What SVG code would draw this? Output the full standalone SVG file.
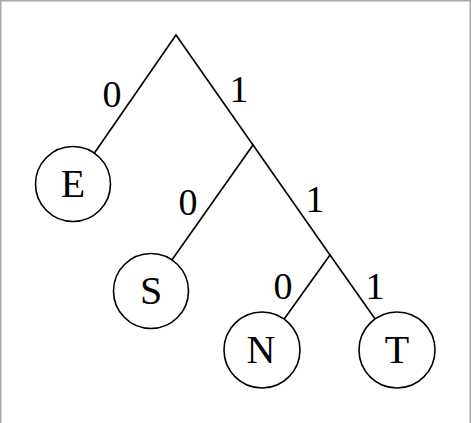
<svg xmlns="http://www.w3.org/2000/svg" width="471" height="423" viewBox="0 0 471 423">
<style>
.edge{stroke:#000;stroke-width:1.6;fill:none;stroke-linecap:round}
.node circle{fill:#fff;stroke:#000;stroke-width:1.6}
.lbl{font-family:"Liberation Serif","DejaVu Serif",serif;font-size:38px;fill:#000;text-anchor:middle}
.nl{font-size:40px}
.frame{stroke:#a8a8a8;stroke-width:1.5;fill:none}
</style>
<rect x="0" y="0" width="471" height="423" fill="#fff"/>
<path class="frame" d="M0.75,423 V0.75 H470.25 V423"/>
<g id="connectors">
<path class="edge" d="M73,184 L176,35 L253,145"/>
<path class="edge" d="M150,291 L253,145 L330,255"/>
<path class="edge" d="M262,350 L330,255 L397,350"/>
<text class="lbl" x="112" y="107">0</text>
<text class="lbl" x="239" y="102">1</text>
<text class="lbl" x="188" y="215">0</text>
<text class="lbl" x="315" y="212">1</text>
<text class="lbl" x="283" y="299">0</text>
<text class="lbl" x="375" y="299">1</text>
</g>
<g id="node-E" class="node"><circle cx="73" cy="184" r="37.5"/><text class="lbl nl" x="73" y="197">E</text></g>
<g id="node-S" class="node"><circle cx="151" cy="291" r="37.5"/><text class="lbl nl" x="151" y="304">S</text></g>
<g id="node-N" class="node"><circle cx="262" cy="350" r="38"/><text class="lbl nl" x="261" y="363">N</text></g>
<g id="node-T" class="node"><circle cx="397" cy="350" r="38"/><text class="lbl nl" x="397" y="363">T</text></g>
</svg>
